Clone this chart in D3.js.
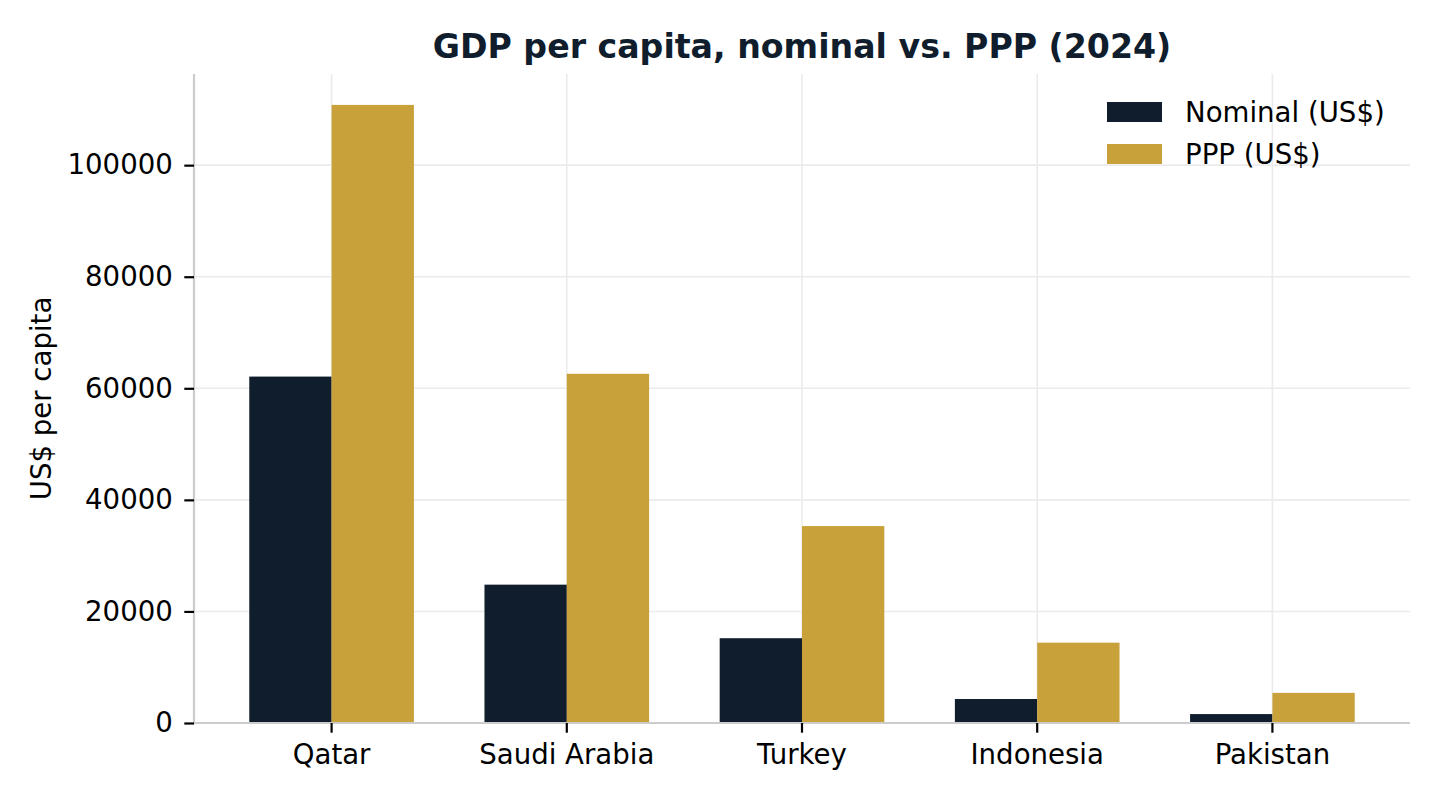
<!DOCTYPE html>
<html>
<head>
<meta charset="utf-8">
<script src="https://cdn.jsdelivr.net/npm/d3@7"></script>
<style>
  body { margin: 0; background: #fff; }
  svg text { font-family: "DejaVu Sans", sans-serif; }
</style>
</head>
<body>
<div id="chart"></div>
<script>
// data
const countries = ["Qatar", "Saudi Arabia", "Turkey", "Indonesia", "Pakistan"];
const nominal = [62100, 24800, 15200, 4300, 1600];
const ppp = [110800, 62600, 35300, 14400, 5400];
const seriesNames = ["Nominal (US$)", "PPP (US$)"];
const yTicks = [0, 20000, 40000, 60000, 80000, 100000];

const width = 1440, height = 800;
const margin = { top: 74, right: 30, bottom: 77, left: 194 };
const colors = ["#101d2d", "#c8a13b"];
const fontSize = "27.6px";

const svg = d3.select("#chart").append("svg")
    .attr("width", width)
    .attr("height", height);

const x = d3.scaleBand()
    .domain(countries)
    .range([margin.left, width - margin.right])
    .paddingInner(0)
    .paddingOuter(0.085);

const y = d3.scaleLinear()
    .domain([0, d3.max(ppp) * 1.05])
    .range([height - margin.bottom, margin.top]);

const barW = x.bandwidth() * 0.35;

// grid
svg.append("g")
    .selectAll("line.hgrid")
    .data(yTicks)
    .enter().append("line")
    .attr("x1", margin.left).attr("x2", width - margin.right)
    .attr("y1", d => y(d)).attr("y2", d => y(d))
    .attr("stroke", "#ebebeb").attr("stroke-width", 1.6);

svg.append("g")
    .selectAll("line.vgrid")
    .data(countries)
    .enter().append("line")
    .attr("x1", d => x(d) + x.bandwidth() / 2).attr("x2", d => x(d) + x.bandwidth() / 2)
    .attr("y1", margin.top).attr("y2", height - margin.bottom)
    .attr("stroke", "#ebebeb").attr("stroke-width", 1.6);

// bars
const rows = countries.map((c, i) => ({ country: c, values: [nominal[i], ppp[i]] }));

const group = svg.selectAll(".group")
    .data(rows)
    .enter().append("g")
    .attr("class", "group")
    .attr("transform", d => "translate(" + (x(d.country) + x.bandwidth() / 2) + ",0)");

group.selectAll("rect")
    .data(d => d.values)
    .enter().append("rect")
    .attr("x", (d, i) => i === 0 ? -barW : 0)
    .attr("y", d => y(d))
    .attr("width", barW)
    .attr("height", d => y(0) - y(d))
    .attr("fill", (d, i) => colors[i]);

// axes
const yAxis = svg.append("g")
    .attr("transform", "translate(" + margin.left + ",0)")
    .call(d3.axisLeft(y).tickValues(yTicks).tickFormat(d3.format("d")).tickSize(9.7).tickPadding(11.5));

const xAxis = svg.append("g")
    .attr("transform", "translate(0," + (height - margin.bottom) + ")")
    .call(d3.axisBottom(x).tickSize(9.7).tickPadding(12));

[yAxis, xAxis].forEach(function(ax) {
  ax.select(".domain").attr("stroke", "#cccccc").attr("stroke-width", 2.2);
  ax.selectAll(".tick line").attr("stroke", "#000").attr("stroke-width", 2.2);
  ax.selectAll(".tick text").attr("fill", "#000").style("font-size", fontSize);
});
yAxis.select(".domain").attr("d", "M0," + margin.top + "V" + (height - margin.bottom));
xAxis.select(".domain").attr("d", "M" + margin.left + ",0H" + (width - margin.right));

// y label
svg.append("text")
    .attr("transform", "translate(51," + ((margin.top + height - margin.bottom) / 2) + ") rotate(-90)")
    .attr("text-anchor", "middle")
    .style("font-size", fontSize)
    .attr("fill", "#000")
    .text("US$ per capita");

// title
svg.append("text")
    .attr("x", (margin.left + width - margin.right) / 2)
    .attr("y", 58)
    .attr("text-anchor", "middle")
    .attr("font-weight", "bold")
    .style("font-size", "33.2px")
    .attr("fill", "#101d2d")
    .text("GDP per capita, nominal vs. PPP (2024)");

// legend
const legend = svg.append("g")
    .attr("transform", "translate(1107,102)");

const item = legend.selectAll(".item")
    .data(seriesNames)
    .enter().append("g")
    .attr("transform", (d, i) => "translate(0," + (i * 42) + ")");

item.append("rect")
    .attr("width", 55).attr("height", 20)
    .attr("fill", (d, i) => colors[i]);

item.append("text")
    .attr("x", 78).attr("y", 10)
    .attr("dy", "0.35em")
    .style("font-size", fontSize)
    .attr("fill", "#000")
    .text(d => d);
</script>
</body>
</html>
